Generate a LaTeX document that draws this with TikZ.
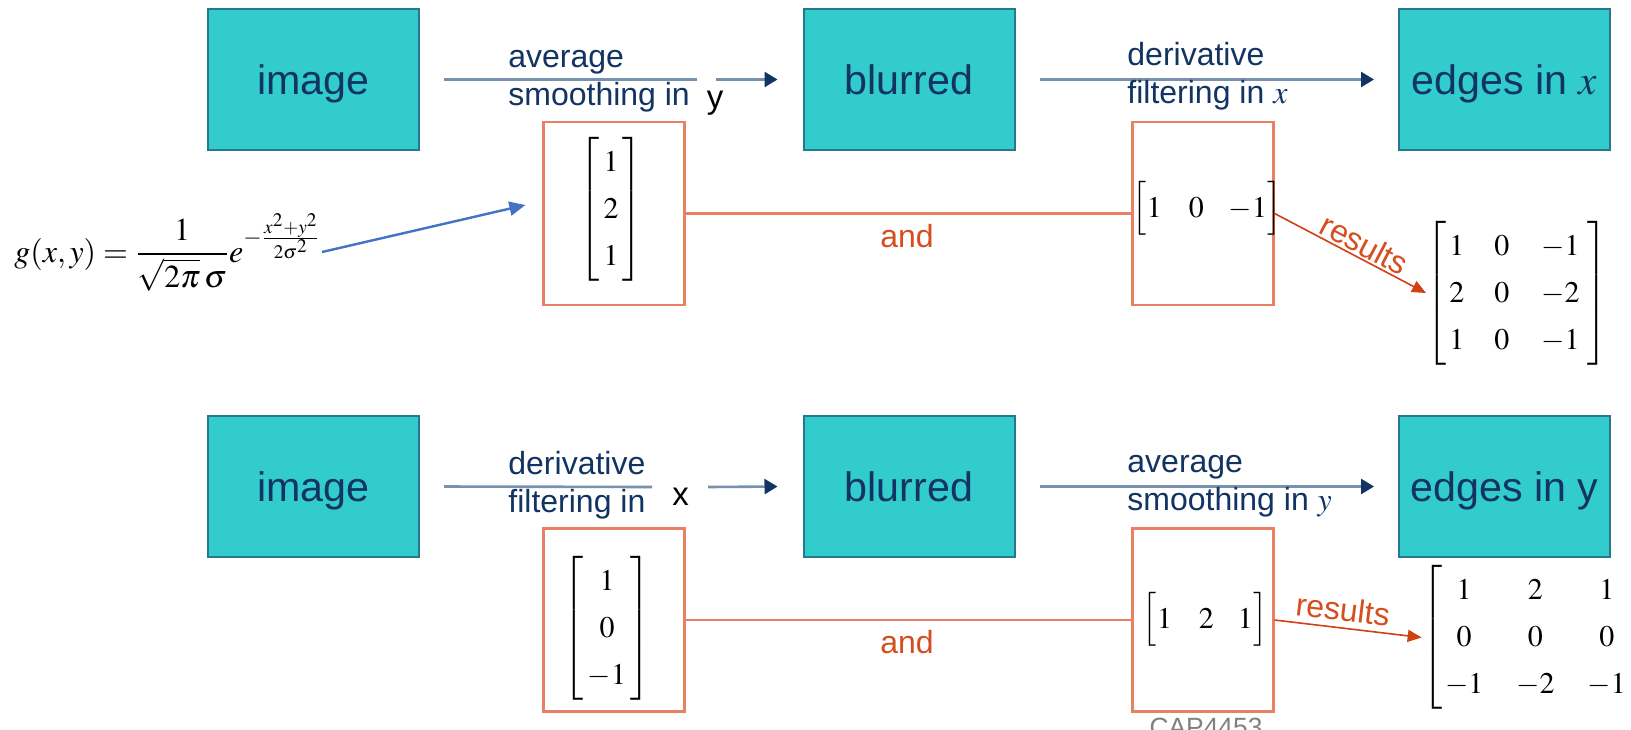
\documentclass[tikz,border=0pt]{standalone}
\usepackage{mathptmx}
\usepackage[no-math]{fontspec}
\setmainfont{Liberation Sans}
\usetikzlibrary{arrows.meta}
\definecolor{boxfill}{RGB}{51,204,204}
\definecolor{boxline}{RGB}{38,120,140}
\definecolor{navy}{RGB}{18,52,98}
\definecolor{flowgray}{RGB}{118,146,174}
\definecolor{orbox}{RGB}{232,128,100}
\definecolor{ortext}{RGB}{214,78,30}
\definecolor{orarrow}{RGB}{208,66,20}
\definecolor{gaussblue}{RGB}{68,114,196}
\definecolor{capgray}{RGB}{128,128,128}
\begin{document}
\begin{tikzpicture}[x=0.5pt,y=-0.5pt,
  stage/.style={draw=boxline, line width=1pt, fill=boxfill, minimum width=105.5pt,
    minimum height=70.5pt, inner sep=0pt, text=navy,
    font=\fontsize{20.6}{24}\selectfont, text height=14.8pt, text depth=0pt},
  kernel/.style={draw=orbox, line width=1.1pt, minimum width=70.5pt, minimum height=91.5pt, inner sep=0pt},
  mat/.style={inner sep=0pt, font=\fontsize{15}{23.5}\selectfont},
  lbl/.style={inner sep=0pt, text=navy, font=\fontsize{16}{19}\selectfont, anchor=base west},
  blk/.style={inner sep=0pt, text=black, font=\fontsize{16.5}{19}\selectfont, anchor=base},
  flow/.style={draw=flowgray, line width=1.3pt},
  flowarrow/.style={flow, -{Triangle[length=6.5pt, width=7.5pt, color=navy]}},
  link/.style={draw=orbox, line width=1.1pt},
  andlbl/.style={inner sep=0pt, text=ortext, font=\fontsize{16}{19}\selectfont, anchor=base},
  resarrow/.style={draw=orarrow, line width=0.8pt, -{Triangle[length=7pt, width=6pt]}},
  reslbl/.style={inner sep=1pt, text=ortext, font=\fontsize{16}{19}\selectfont},
  gaussarrow/.style={draw=gaussblue, line width=1.2pt, -{Triangle[length=8pt, width=7pt]}}
]
\path[use as bounding box, fill=white] (0,0) rectangle (1631,729);

% ---- top row ----
\node[stage] (img1) at (313.5,79.5) {image};
\node[stage] (blur1) at (909,79.5) {blurred};
\node[stage] (edge1) at (1504.5,79.5) {edges in $x$};

\coordinate (g1) at (697,79.5);
\coordinate (g2) at (716,79.5);
\draw[flow] ([xshift=12pt]img1.east) -- (g1);
\draw[flowarrow] (g2) -- ([xshift=-12.5pt]blur1.west);
\draw[flowarrow] ([xshift=12pt]blur1.east) -- ([xshift=-12pt]edge1.west);

\node[lbl] (lab1) at (508,67) {\begin{tabular}[t]{@{}l@{}}average\\smoothing in\end{tabular}};
\node[blk] (yblack) at (715,108) {y};
\node[lbl] (lab2) at (1127,65) {\begin{tabular}[t]{@{}l@{}}derivative\\filtering in $x$\end{tabular}};

\node[kernel] (k1) at (614,213.5) {};
\node[kernel] (k2) at (1203,213.5) {};
\node[mat] (m1) at (611,209) {$\left[\begin{array}{@{\hspace{2pt}}c@{\hspace{2pt}}}1\\2\\1\end{array}\right]$};
\node[mat] (m2) at (1207,208) {$\left[\begin{array}{@{}c@{\hspace{13.5pt}}c@{\hspace{12.5pt}}c@{}}1&0&-1\end{array}\right]$};
\draw[link] (k1.east) -- (k2.west);
\node[andlbl] (and1) at (907,247) {and};

\node[mat] (r1) at (1517,293) {$\left[\begin{array}{@{\hspace{1.5pt}}c@{\hspace{15pt}}c@{\hspace{16pt}}c@{\hspace{4pt}}}1&0&-1\\2&0&-2\\1&0&-1\end{array}\right]$};
\draw[resarrow] (k2.east) -- (r1.west) node[reslbl, pos=0.55, above, sloped] (res1) {results};

% gaussian
\node[anchor=base west, inner sep=0pt] (gauss) at (14,262) {\fontsize{16}{20}\selectfont $\displaystyle g(x,y)=\frac{1}{\sqrt{2\pi}\,\sigma}e^{-\frac{x^2+y^2}{2\sigma^2}}$};
\coordinate (gtail) at (322,252);
\draw[gaussarrow] (gtail) -- ([xshift=-8.5pt,yshift=4.25pt]k1.west);

% ---- bottom row ----
\node[stage] (img2) at (313.5,486.5) {image};
\node[stage] (blur2) at (909,486.5) {blurred};
\node[stage] (edge2) at (1504.5,486.5) {edges in y};

\coordinate (g3) at (652,487);
\coordinate (g4) at (708,487);
\draw[flow] ([xshift=12pt]img2.east) -- (g3);
\draw[flowarrow] (g4) -- ([xshift=-12.5pt]blur2.west);
\draw[flowarrow] ([xshift=12pt]blur2.east) -- ([xshift=-12pt]edge2.west);

\node[lbl] (lab3) at (508,474) {\begin{tabular}[t]{@{}l@{}}derivative\\filtering in\end{tabular}};
\node[blk] (xblack) at (680.5,505) {x};
\node[lbl] (lab4) at (1127,472) {\begin{tabular}[t]{@{}l@{}}average\\smoothing in $y$\end{tabular}};

\node[kernel] (k3) at (614,620) {};
\node[kernel] (k4) at (1203,620) {};
\node[mat] (m3) at (607,628) {$\left[\begin{array}{@{\hspace{2pt}}c@{\hspace{2pt}}}1\\0\\-1\end{array}\right]$};
\node[mat] (m4) at (1205,619) {$\left[\begin{array}{@{}c@{\hspace{13.5pt}}c@{\hspace{12pt}}c@{}}1&2&1\end{array}\right]$};
\draw[link] (k3.east) -- (k4.west);
\node[andlbl] (and2) at (907,653) {and};

\node[mat] (r2) at (1537,637.5) {$\left[\begin{array}{@{\hspace{1.5pt}}c@{\hspace{16.5pt}}c@{\hspace{16.5pt}}c@{\hspace{3pt}}}1&2&1\\0&0&0\\-1&-2&-1\end{array}\right]$};
\draw[resarrow] (k4.east) -- (r2.west) node[reslbl, pos=0.45, above, sloped, yshift=2pt] (res2) {results};

\node[anchor=base, inner sep=0pt, text=capgray, font=\fontsize{13.2}{15}\selectfont] (cap) at (1206,736) {CAP4453};
\end{tikzpicture}
\end{document}
